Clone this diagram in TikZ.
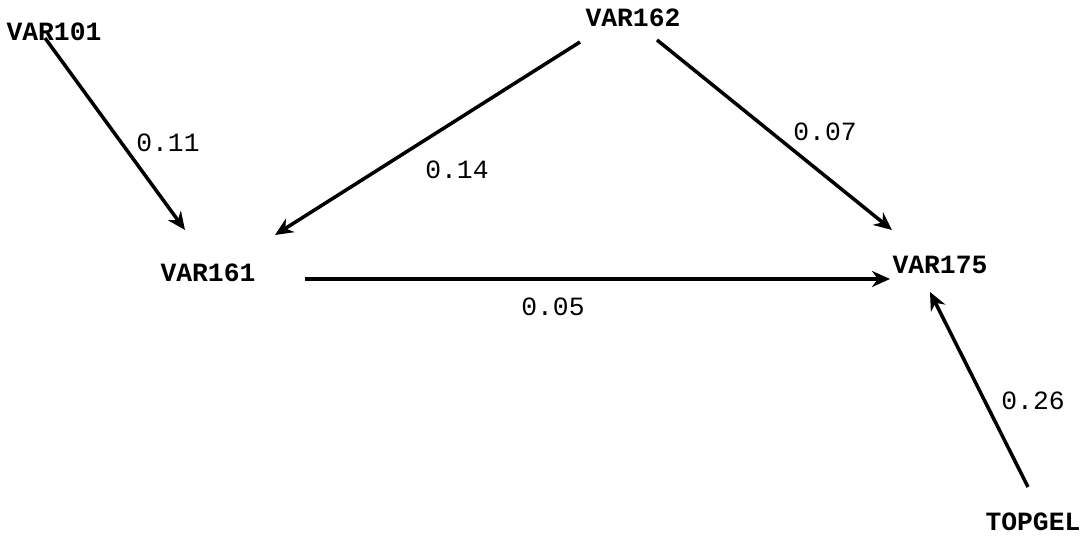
\documentclass[tikz,border=0pt]{standalone}
\usepackage{fontspec}
\setmonofont{Liberation Mono}
\usetikzlibrary{calc,arrows.meta}

\begin{document}
\begin{tikzpicture}[x=0.02cm,y=-0.02cm,
  var/.style={font=\ttfamily\bfseries\fontsize{15}{17}\selectfont,inner sep=1pt},
  coef/.style={font=\ttfamily\fontsize{15}{17}\selectfont,inner sep=1pt},
  path/.style={line width=2pt,-{Stealth[length=0.36cm,width=0.32cm]}}]
\useasboundingbox (0,0) rectangle (1083,536);
% variables
\node[var] (v101) at (54,32) {VAR101};
\node[var] (v162) at (633,18) {VAR162};
\node[var] (v161) at (208,273) {VAR161};
\node[var] (v175) at (940,265) {VAR175};
\node[var] (topgel) at (1033,522) {TOPGEL};
% paths
\draw[path] ($(v101)+(-9,6)$) -- ($(v161)+(-23,-43)$);
\draw[path] ($(v162)+(-53,24)$) -- ($(v161)+(67,-38)$);
\draw[path] ($(v162)+(24,22)$) -- ($(v175)+(-48,-35)$);
\draw[path] ($(v161)+(97,6)$) -- ($(v175)+(-50,14)$);
\draw[path] ($(topgel)+(-5,-35)$) -- ($(v175)+(-10,27)$);
% coefficients
\node[coef] (c11) at (168,143) {0.11};
\node[coef] (c14) at (457,170) {0.14};
\node[coef] (c07) at (825,132) {0.07};
\node[coef] (c05) at (553,307) {0.05};
\node[coef] (c26) at (1033,401) {0.26};
\end{tikzpicture}
\end{document}
